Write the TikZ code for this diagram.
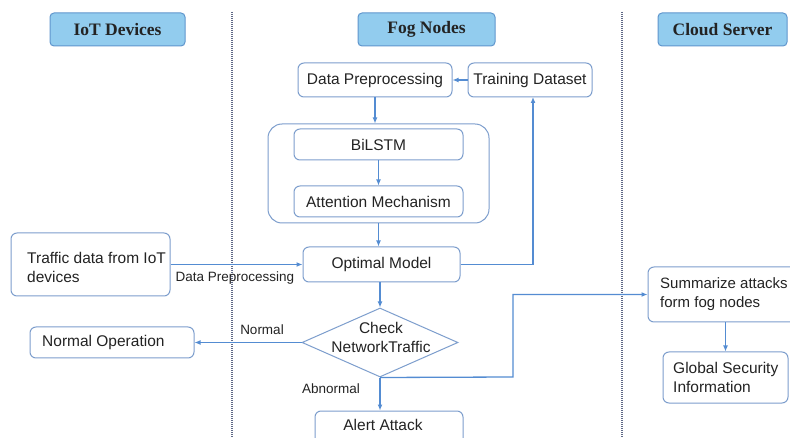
\documentclass[tikz,border=0pt]{standalone}
\usepackage{fontspec}
\setmainfont{Liberation Sans}
\newfontfamily\headfont{Liberation Serif}
\usetikzlibrary{arrows.meta,shapes.geometric}
\definecolor{hdrfill}{RGB}{146,204,238}
\definecolor{hdrdraw}{RGB}{96,150,205}
\definecolor{boxdraw}{RGB}{125,158,205}
\definecolor{arr}{RGB}{84,140,210}
\definecolor{txt}{RGB}{35,35,35}
\definecolor{sep}{RGB}{95,105,135}
\begin{document}
\begin{tikzpicture}[x=1pt,y=-1pt,
  hdr/.style={draw=hdrdraw, fill=hdrfill, rounded corners=4pt, line width=1pt, inner sep=0pt,
    font=\headfont\bfseries\fontsize{17.5}{19}\selectfont, text=txt},
  box/.style={draw=boxdraw, rounded corners=6pt, line width=1pt, inner sep=0pt,
    font=\fontsize{15.5}{18}\selectfont, text=txt},
  btxt/.style={font=\fontsize{15.5}{19}\selectfont, text=txt, inner sep=0pt, align=left},
  lbl/.style={font=\fontsize{13.5}{15}\selectfont, text=txt, inner sep=0pt},
  conn/.style={draw=arr, line width=1.3pt, -{Latex[length=6pt,width=5pt]}},
  sepline/.style={draw=sep, line width=1.3pt, dash pattern=on 1pt off 1pt}]
\clip (0,0) rectangle (790,438);
\useasboundingbox (0,0) rectangle (790,438);
\fill[white] (0,0) rectangle (790,438);

% separators
\draw[sepline] (232,12) -- (232,438);
\draw[sepline] (622,12) -- (622,438);

% headers
\node[hdr, minimum width=135pt, minimum height=33pt] (hiot) at (117.5,29.5) {IoT Devices};
\node[hdr, minimum width=137pt, minimum height=33pt] (hfog) at (426.5,29.5) {Fog Nodes};
\node[hdr, minimum width=129pt, minimum height=33pt] (hcloud) at (722.5,29.5) {Cloud Server};

% fog column
\node[box, minimum width=154pt, minimum height=34pt] (dp) at (375,80) {Data Preprocessing};
\node[box, minimum width=124pt, minimum height=34pt] (td) at (530,80) {Training Dataset};
\node[box, rounded corners=14pt, minimum width=221pt, minimum height=99pt] (big) at (378.5,173.5) {};
\node[box, minimum width=169pt, minimum height=31pt] (bilstm) at (378.5,144.5) {BiLSTM};
\node[box, minimum width=169pt, minimum height=31pt] (attn) at (378.5,201.5) {Attention Mechanism};
\node[box, minimum width=157pt, minimum height=35pt] (opt) at (381.5,264.5) {Optimal Model};
\node[draw=boxdraw, line width=1pt, shape=diamond, inner sep=0pt, minimum width=156pt, minimum height=69pt] (dia) at (380,342.5) {};
\node[btxt, align=center] (diatxt) at (381,337) {Check\\NetworkTraffic};
\node[box, minimum width=148pt, minimum height=44pt] (alert) at (389,433) {};
\node[btxt] (alerttxt) at (383,425) {Alert Attack};

% iot column
\node[box, minimum width=159pt, minimum height=63pt] (traffic) at (90.5,264.5) {};
\node[btxt, anchor=west] (traffictxt) at (27,267.5) {Traffic data from IoT\\devices};
\node[box, minimum width=164pt, minimum height=31pt] (normal) at (112,342.5) {};
\node[btxt, anchor=west] (normaltxt) at (42,342.5) {Normal Operation};

% cloud column
\node[box, minimum width=152pt, minimum height=55pt] (sum) at (724,294.5) {};
\node[btxt, font=\fontsize{15}{19}\selectfont, anchor=west] (sumtxt) at (660,294.5) {Summarize attacks\\form fog nodes};
\node[box, minimum width=125pt, minimum height=51pt] (glob) at (725.5,377.5) {};
\node[btxt, anchor=west] (globtxt) at (673,377.5) {Global Security\\Information};

% connectors
\coordinate (tdin) at (533,97);
\coordinate (abr) at (513,377);
\draw[conn] (td.west) -- (dp.east);
\draw[conn] (dp.south) -- (dp.south |- big.north);
\draw[conn] (bilstm.south) -- (attn.north);
\draw[conn] (big.south) -- (big.south |- opt.north);
\draw[conn] (opt.east) -| (tdin);
\draw[conn] (traffic.east) -- (opt.west);
\draw[conn] (dia.north |- opt.south) -- (dia.north);
\draw[conn] (dia.west) -- (normal.east);
\draw[conn] (dia.south) -- (dia.south |- alert.north);
\draw[conn] (dia.south) -- (abr) |- (sum.west);
\draw[conn] (sum.south -| glob.north) -- (glob.north);

% labels
\node[lbl] (lpre) at (235,278) {Data Preprocessing};
\node[lbl] (lnorm) at (262,330) {Normal};
\node[lbl] (labn) at (331,389) {Abnormal};
\end{tikzpicture}
\end{document}
